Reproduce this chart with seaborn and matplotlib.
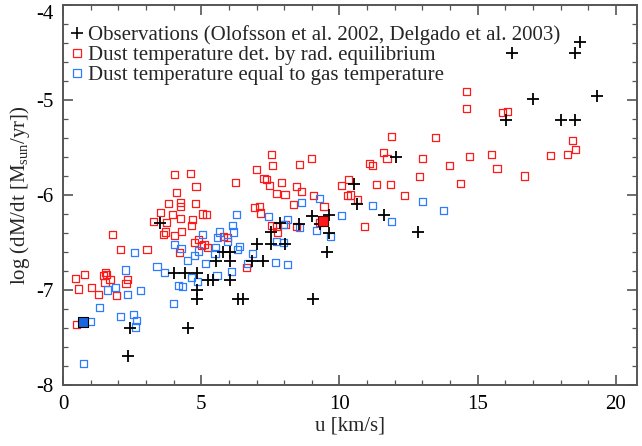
import numpy as np
import pandas as pd
import matplotlib
matplotlib.use("Agg")
import matplotlib.pyplot as plt
from matplotlib.ticker import MultipleLocator
from matplotlib.lines import Line2D
import seaborn as sns

# Observed mass-loss rates (Olofsson et al. 2002, Delgado et al. 2003)
obs_u = [18.70, 18.52, 16.23, 19.30, 17.00, 16.02, 18.01, 18.53, 12.04, 10.52,
         10.63, 9.02, 9.63, 8.54, 9.63, 9.54, 11.62, 9.04, 9.28, 12.83,
         7.85, 7.51, 7.03, 7.51, 8.03, 6.85, 7.22, 6.50, 6.33, 5.80,
         6.04, 5.53, 6.04, 4.01, 4.41, 4.86, 5.26, 5.44, 6.04, 4.84,
         4.84, 4.53, 3.51, 2.42, 2.34]
obs_logm = [-4.39, -4.51, -4.51, -4.96, -4.99, -5.21, -5.21, -5.21, -5.60, -5.88,
            -6.09, -6.22, -6.21, -6.31, -6.40, -6.60, -6.21, -7.09, -6.31, -6.39,
            -6.30, -6.39, -6.52, -6.52, -6.52, -6.69, -6.69, -7.10, -7.10, -6.60,
            -6.60, -6.70, -6.70, -6.82, -6.82, -6.82, -6.89, -6.89, -6.89, -7.00,
            -7.10, -7.40, -6.30, -7.40, -7.70]

# Models: dust temperature from radiative equilibrium
rad_u = [4.03, 4.60, 4.81, 4.12, 6.25, 3.81, 4.24, 4.24, 4.78, 3.54,
         3.97, 4.26, 5.04, 5.18, 4.68, 3.28, 3.75, 4.65, 3.71, 3.64,
         4.29, 1.78, 4.05, 5.81, 5.94, 4.75, 4.89, 5.10, 5.02, 5.23,
         2.09, 3.04, 4.21, 6.63, 1.54, 1.46, 1.58, 1.70, 0.78, 0.46,
         1.52, 2.35, 2.28, 1.02, 0.55, 1.28, 1.93, 0.48,
         11.89, 13.48, 7.53, 11.58, 11.72, 8.98, 12.99, 7.57, 8.55, 11.10,
         11.19, 7.00, 7.27, 7.36, 7.46, 7.91, 8.44, 7.73, 8.03, 8.62,
         9.05, 10.32, 10.08, 10.39, 10.30, 10.64, 11.34, 11.84, 12.89, 12.36,
         8.33, 6.92, 7.10, 7.15, 9.44, 10.92, 7.56, 7.73, 7.75, 8.03,
         8.45, 9.29,
         14.60, 14.59, 15.89, 16.08, 14.72, 15.50, 13.97, 15.70, 14.37, 18.43,
         18.54, 18.24, 17.64, 16.68]
rad_logm = [-5.78, -5.77, -5.91, -5.97, -5.87, -6.09, -6.08, -6.12, -6.09, -6.18,
            -6.21, -6.25, -6.20, -6.21, -6.26, -6.28, -6.29, -6.32, -6.39, -6.42,
            -6.38, -6.42, -6.43, -6.44, -6.45, -6.50, -6.47, -6.52, -6.53, -6.55,
            -6.57, -6.57, -6.61, -6.76, -6.82, -6.85, -6.84, -6.89, -6.84, -6.88,
            -6.92, -6.89, -6.93, -6.97, -6.99, -7.05, -7.06, -7.36,
            -5.38, -5.39, -5.57, -5.55, -5.62, -5.62, -5.62, -5.69, -5.68, -5.67,
            -5.69, -5.73, -5.83, -5.84, -5.90, -5.87, -5.91, -5.98, -5.99, -5.96,
            -6.01, -5.84, -5.90, -6.00, -6.01, -6.05, -5.89, -5.89, -5.81, -6.01,
            -6.10, -6.13, -6.12, -6.19, -6.12, -6.33, -6.32, -6.33, -6.39, -6.31,
            -6.33, -6.29,
            -4.91, -5.09, -5.13, -5.12, -5.59, -5.57, -5.69, -5.72, -5.88, -5.43,
            -5.52, -5.57, -5.58, -5.80]

# Models: dust temperature equal to gas temperature
gas_u = [2.60, 2.27, 3.40, 3.66, 4.05, 3.99, 1.60, 1.89, 2.81, 2.34,
         1.31, 2.09, 2.54, 2.66, 2.63, 1.00, 0.75,
         6.27, 6.12, 6.16, 5.65, 5.04, 5.58, 5.94, 4.27, 5.51,
         6.37, 6.32, 4.89, 4.77, 5.50, 4.50, 5.15, 6.85, 6.68, 6.08,
         5.57, 4.65, 4.17, 4.33, 4.87,
         7.68, 8.11, 7.73, 7.99,
         8.62, 9.27, 7.43, 8.13, 7.97, 8.55, 9.16, 10.08, 9.66, 11.19,
         11.89, 13.00, 13.75]
gas_logm = [-6.61, -6.79, -6.75, -6.82, -6.52, -7.14, -7.00, -6.97, -7.01, -7.05,
            -7.18, -7.28, -7.26, -7.32, -7.39, -7.33, -7.77,
            -6.21, -6.32, -6.39, -6.39, -6.42, -6.45, -6.49, -6.56, -6.55,
            -6.54, -6.57, -6.59, -6.64, -6.62, -6.69, -6.72, -6.62, -6.72, -6.81,
            -6.85, -6.87, -6.95, -6.96, -6.91,
            -6.71, -6.73, -6.49, -6.50,
            -6.08, -6.04, -6.23, -6.26, -6.31, -6.34, -6.37, -6.22, -6.44, -6.11,
            -6.28, -6.07, -6.16]

# Highlighted models (filled squares)
hl_rad_u, hl_rad_logm = [9.41], [-6.27]
hl_gas_u, hl_gas_logm = [0.73], [-7.34]

legend_labels = [
    "Observations (Olofsson et al. 2002, Delgado et al. 2003)",
    "Dust temperature det. by rad. equilibrium",
    "Dust temperature equal to gas temperature",
]

RED = "#ff1a1a"
BLUE = "#2b7cff"
AXC = "#555555"
FS = 15

sns.set_style("ticks")
plt.rcParams["font.family"] = ["Liberation Serif", "DejaVu Serif"]
plt.rcParams["mathtext.fontset"] = "custom"
plt.rcParams["mathtext.rm"] = "Liberation Serif"
plt.rcParams["mathtext.it"] = "Liberation Serif:italic"
plt.rcParams["axes.unicode_minus"] = False

fig = plt.figure(figsize=(6.42, 4.46), dpi=100)
ax = fig.add_axes([0.0981, 0.1368, 0.894, 0.852])

rad_df = pd.DataFrame({"u": rad_u, "logm": rad_logm})
gas_df = pd.DataFrame({"u": gas_u, "logm": gas_logm})
obs_df = pd.DataFrame({"u": obs_u, "logm": obs_logm})

sq = dict(marker="s", s=26, linewidth=0.9, legend=False)
sns.scatterplot(data=rad_df, x="u", y="logm", ax=ax, color=RED,
                facecolor="none", edgecolor=RED, zorder=3, **sq)
sns.scatterplot(data=gas_df, x="u", y="logm", ax=ax, color=BLUE,
                facecolor="none", edgecolor=BLUE, zorder=3, **sq)
sns.scatterplot(data=obs_df, x="u", y="logm", ax=ax, color="black",
                marker="+", s=80, linewidth=1.3, zorder=4, legend=False)
sns.scatterplot(x=hl_rad_u, y=hl_rad_logm, ax=ax, color=RED, marker="s",
                s=60, edgecolor="#550000", linewidth=0.8, zorder=5, legend=False)
sns.scatterplot(x=hl_gas_u, y=hl_gas_logm, ax=ax, color="#1a66e0", marker="s",
                s=60, edgecolor="black", linewidth=0.8, zorder=5, legend=False)

ax.set_xlim(0, 20.76)
ax.set_ylim(-8, -4)
ax.xaxis.set_major_locator(MultipleLocator(5))
ax.xaxis.set_minor_locator(MultipleLocator(1))
ax.set_yticks([-8, -7, -6, -5, -4])
ylabels = ax.set_yticklabels(["-8", "-7", "-6", "-5", "-4"])
ylabels[-1].set_va("top")
ax.yaxis.set_minor_locator(MultipleLocator(0.2))

ax.tick_params(which="both", direction="in", top=True, right=True,
               color=AXC, labelsize=FS, labelcolor="black")
ax.tick_params(which="major", length=7.5, width=1.2, pad=7)
ax.tick_params(which="minor", length=3.8, width=0.9)
for sp in ax.spines.values():
    sp.set_color(AXC)
    sp.set_linewidth(1.4)

ax.set_xlabel("u [km/s]", fontsize=FS, labelpad=2)
ax.set_ylabel(r"log (dM/dt [M$_{\rm sun}$/yr])", fontsize=FS, labelpad=3)

handles = [
    Line2D([], [], linestyle="none", marker="+", color="black",
           markersize=8, markeredgewidth=1.2),
    Line2D([], [], linestyle="none", marker="s", markerfacecolor="none",
           markeredgecolor=RED, markersize=5.5, markeredgewidth=0.9),
    Line2D([], [], linestyle="none", marker="s", markerfacecolor="none",
           markeredgecolor=BLUE, markersize=5.5, markeredgewidth=0.9),
]
ax.legend(handles, legend_labels, loc="upper left", bbox_to_anchor=(-0.012, 0.985),
          frameon=False, fontsize=FS, handlelength=0.6, handletextpad=0.25,
          labelspacing=0.02, borderaxespad=0.3)

fig.savefig("out.png", dpi=100)
